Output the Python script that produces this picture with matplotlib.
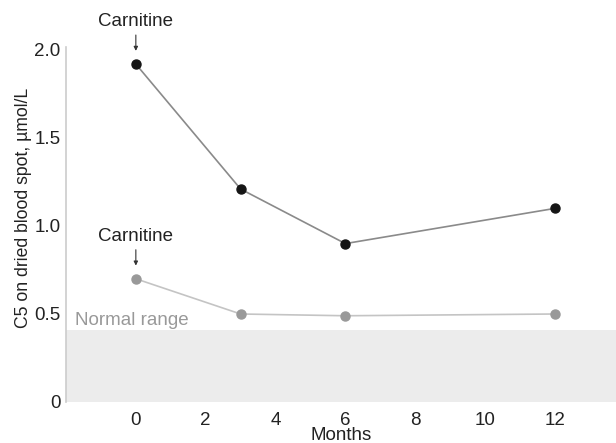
import matplotlib
matplotlib.use("Agg")
import matplotlib.pyplot as plt

plt.rcParams['font.family'] = ['Liberation Sans', 'DejaVu Sans']

months = [0, 3, 6, 12]
c5_high = [1.92, 1.21, 0.90, 1.10]
c5_low = [0.70, 0.50, 0.49, 0.50]
normal_upper = 0.41
xticks = [0, 2, 4, 6, 8, 10, 12]
yticks = [0, 0.5, 1.0, 1.5, 2.0]
yticklabels = ["0", "0.5", "1.0", "1.5", "2.0"]

fs = 13.5
fig = plt.figure(figsize=(6.16, 4.43), dpi=100)
ax = fig.add_axes([66 / 616, 1 - 402 / 443, 1 - 66 / 616, (402 - 47) / 443])

ax.axhspan(0, normal_upper, color="#ececec", zorder=0, lw=0)
ax.text(-1.75, 0.435, "Normal range", color="#999999", fontsize=fs, va="baseline")

ax.plot(months, c5_high, color="#8a8a8a", lw=1.2, zorder=2)
ax.plot(months, c5_high, "o", color="#151515", ms=6.5, zorder=3)
ax.plot(months, c5_low, color="#c4c4c4", lw=1.2, zorder=2)
ax.plot(months, c5_low, "o", color="#999999", ms=6.5, zorder=3)

for y0 in [c5_high[0], c5_low[0]]:
    ax.annotate("", xy=(months[0], y0 + 0.075), xytext=(months[0], y0 + 0.165),
                arrowprops=dict(arrowstyle="-|>", color="#333333", lw=0.8,
                                mutation_scale=6, shrinkA=0, shrinkB=0),
                annotation_clip=False)
    ax.text(months[0], y0 + 0.215, "Carnitine", ha="center", va="baseline",
            fontsize=fs, color="#222222", clip_on=False)

ax.set_xlim(-2, 13.75)
ax.set_ylim(0, 2.017)
ax.set_xticks(xticks)
ax.set_yticks(yticks)
ax.set_yticklabels(yticklabels)
ax.tick_params(length=0, labelsize=fs, colors="#222222")
ax.tick_params(axis="y", pad=4)
ax.tick_params(axis="x", pad=7)
for s in ["top", "right", "bottom"]:
    ax.spines[s].set_visible(False)
ax.spines["left"].set_color("#cccccc")
ax.spines["left"].set_linewidth(1.2)

ax.set_xlabel("Months", fontsize=fs, color="#222222", labelpad=-1)
ax.set_ylabel("C5 on dried blood spot, \u00b5mol/L", fontsize=12.7, color="#222222")
ax.yaxis.set_label_coords(-0.062, 0.546)

fig.savefig("out.png", dpi=100)
